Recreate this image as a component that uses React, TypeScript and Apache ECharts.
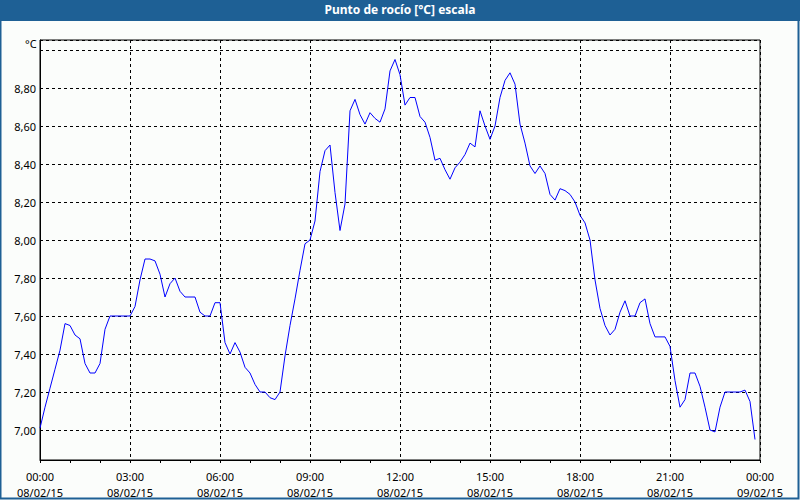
import React, { useEffect, useRef } from "react";
import * as echarts from "echarts";

const titleText = "Punto de rocío [°C] escala";
const unitText = "°C";

// Time-axis tick labels every 3 hours (minutes 0..1440)
const xTickLabels = [
  "00:00\n08/02/15",
  "03:00\n08/02/15",
  "06:00\n08/02/15",
  "09:00\n08/02/15",
  "12:00\n08/02/15",
  "15:00\n08/02/15",
  "18:00\n08/02/15",
  "21:00\n08/02/15",
  "00:00\n09/02/15",
];

// Sampling step in minutes
const stepMinutes = 10;

// Dew point readings, 10-minute samples from 00:00 to 23:50
const dewPoint = [
  7.01, 7.12, 7.22, 7.32, 7.42, 7.56, 7.55, 7.5, 7.48, 7.35,
  7.3, 7.3, 7.35, 7.53, 7.6, 7.6, 7.6, 7.6, 7.6, 7.65,
  7.79, 7.9, 7.9, 7.89, 7.82, 7.7, 7.77, 7.8, 7.73, 7.7,
  7.7, 7.7, 7.62, 7.6, 7.6, 7.67, 7.67, 7.46, 7.4, 7.46,
  7.41, 7.33, 7.3, 7.24, 7.2, 7.2, 7.17, 7.16, 7.2, 7.39,
  7.55, 7.69, 7.84, 7.98, 8.0, 8.1, 8.36, 8.47, 8.5, 8.25,
  8.05, 8.19, 8.68, 8.74, 8.66, 8.61, 8.67, 8.64, 8.62, 8.69,
  8.89, 8.95, 8.87, 8.71, 8.75, 8.75, 8.65, 8.62, 8.54, 8.42,
  8.43, 8.37, 8.32, 8.38, 8.41, 8.45, 8.51, 8.49, 8.68, 8.6,
  8.53, 8.6, 8.75, 8.84, 8.88, 8.82, 8.61, 8.51, 8.39, 8.35,
  8.39, 8.35, 8.24, 8.21, 8.27, 8.26, 8.24, 8.2, 8.13, 8.09,
  8.0, 7.79, 7.64, 7.55, 7.5, 7.53, 7.62, 7.68, 7.6, 7.6,
  7.67, 7.69, 7.56, 7.49, 7.49, 7.49, 7.44, 7.26, 7.12, 7.16,
  7.3, 7.3, 7.23, 7.12, 7.0, 6.99, 7.12, 7.2, 7.2, 7.2,
  7.2, 7.21, 7.15, 6.95,
];

const FONT = "Noto Sans";
const BLUE = "#1e6095";

export default function App() {
  const ref = useRef<HTMLDivElement>(null);

  useEffect(() => {
    if (!ref.current) return;
    const chart = echarts.init(ref.current, null, { renderer: "svg" });
    const seriesData = dewPoint.map((v, i) => [i * stepMinutes, v]);

    chart.setOption({
      animation: false,
      backgroundColor: "#fbfdfb",
      textStyle: { fontFamily: FONT },
      graphic: [
        {
          type: "rect",
          z: 0,
          shape: { x: 0, y: 0, width: 800, height: 21 },
          style: { fill: BLUE },
        },
        {
          type: "rect",
          z: 0,
          shape: { x: 0.5, y: 0.5, width: 798, height: 498 },
          style: { fill: "none", stroke: BLUE, lineWidth: 2 },
        },
        {
          type: "text",
          left: 25,
          top: 38,
          style: {
            text: unitText,
            fill: "#000",
            font: `11px "${FONT}"`,
          },
        },
      ],
      title: {
        text: titleText,
        left: "center",
        top: 1,
        padding: [2, 0, 0, 18],
        textStyle: {
          color: "#ffffff",
          fontFamily: FONT,
          fontWeight: "bold",
          fontSize: 12,
        },
      },
      grid: {
        left: 40,
        right: 40,
        top: 40,
        bottom: 40,
        show: true,
        borderColor: "#000",
        borderWidth: 1,
        backgroundColor: "transparent",
      },
      xAxis: {
        type: "value",
        min: 0,
        max: 1440,
        interval: 180,
        axisLine: { show: true, lineStyle: { color: "#000", width: 1 } },
        axisTick: { show: true, length: 3, lineStyle: { color: "#000" } },
        minorTick: { show: true, splitNumber: 3, length: 3, lineStyle: { color: "#000" } },
        splitLine: {
          show: true,
          lineStyle: { color: "#000", type: [3, 3], width: 1 },
        },
        axisLabel: {
          color: "#000",
          fontSize: 11,
          fontFamily: FONT,
          lineHeight: 16,
          margin: 8,
          formatter: (v: number) => xTickLabels[Math.round(v / 180)] ?? "",
        },
      },
      yAxis: {
        type: "value",
        min: 7 - (0.2 * 30) / 38,
        max: 9 + (0.2 * 10) / 38,
        splitNumber: 10,
        axisLine: { show: true, lineStyle: { color: "#000", width: 1 } },
        axisTick: { show: false },
        splitLine: {
          show: true,
          lineStyle: { color: "#000", type: [3, 3], width: 1 },
        },
        axisLabel: {
          color: "#000",
          fontSize: 11,
          fontFamily: FONT,
          margin: 4,
          showMinLabel: false,
          showMaxLabel: false,
          formatter: (v: number) =>
            v < 6.99 || v > 8.9 ? "" : v.toFixed(2).replace(".", ","),
        },
      },
      series: [
        {
          type: "line",
          data: seriesData,
          showSymbol: false,
          symbol: "none",
          lineStyle: { color: "#0000ff", width: 1 },
          z: 5,
        },
      ],
    });

    return () => chart.dispose();
  }, []);

  return (
    <div
      ref={ref}
      style={{ position: "fixed", left: 0, top: 0, width: 800, height: 500 }}
    />
  );
}
